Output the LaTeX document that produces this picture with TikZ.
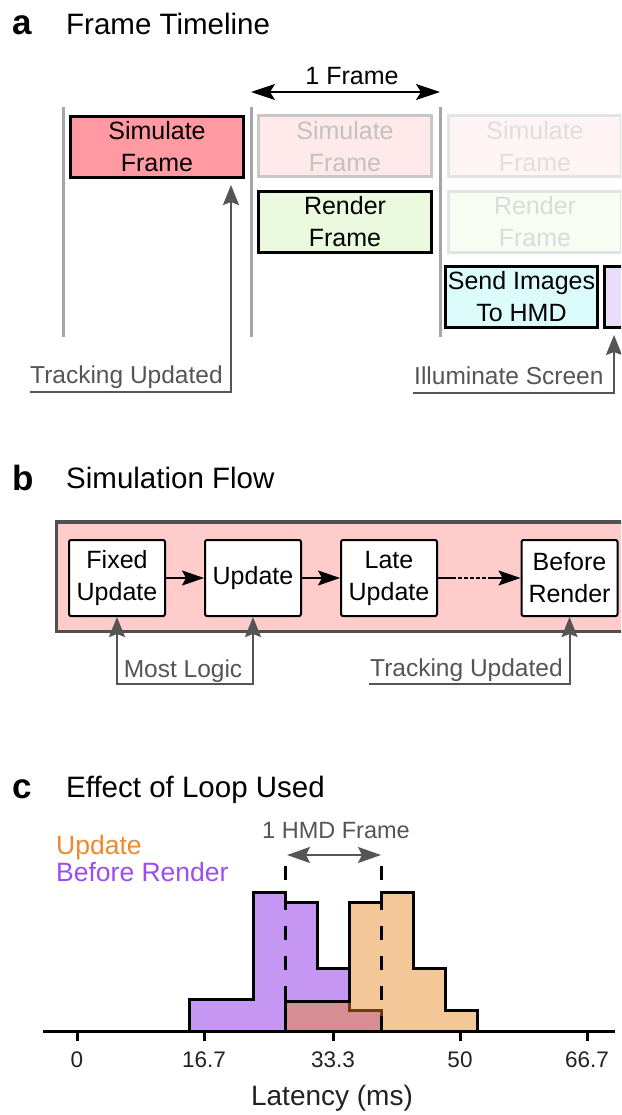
\documentclass[tikz,border=0pt]{standalone}
\usepackage{fontspec}
\setmainfont{Liberation Sans}
\usetikzlibrary{arrows.meta}

\definecolor{sepgray}{HTML}{A6A6A6}
\definecolor{annot}{HTML}{555555}
\definecolor{simfill}{HTML}{FF9AA2}
\definecolor{renfill}{HTML}{EBF9DF}
\definecolor{sendfill}{HTML}{DCFCFC}
\definecolor{illfill}{HTML}{EADCFB}
\definecolor{loopbg}{HTML}{FFCCCC}
\definecolor{loopedge}{HTML}{505050}
\definecolor{updcol}{HTML}{E98521}
\definecolor{updtext}{HTML}{EE8A2E}
\definecolor{befcol}{HTML}{C697F2}
\definecolor{beftext}{HTML}{9B4DF0}
\definecolor{ticktext}{HTML}{222222}

\newcommand\panelfont{\fontsize{35}{40}\selectfont\bfseries}
\newcommand\titlefont{\fontsize{29.5}{34}\selectfont}
\newcommand\boxfont{\fontsize{25}{32}\selectfont}
\newcommand\labfont{\fontsize{24.5}{28}\selectfont}

\begin{document}
\begin{tikzpicture}[x=1pt,y=-1pt,
  panel/.style={anchor=base west, inner sep=0pt, font=\panelfont},
  ptitle/.style={anchor=base west, inner sep=0pt, font=\titlefont},
  sepline/.style={draw=sepgray, line width=3pt},
  tbox/.style={draw=black, line width=3pt, align=center, font=\boxfont,
    inner sep=0pt, minimum width=173pt, minimum height=61pt},
  fbox/.style={draw=black, line width=2pt, rounded corners=2pt, fill=white,
    align=center, font=\boxfont, inner sep=0pt,
    minimum width=96pt, minimum height=76pt},
  lab/.style={inner sep=0pt, font=\labfont, text=annot},
  garrow/.style={draw=annot, line width=2pt,
    -{Stealth[length=20pt, width=16pt, inset=3pt]}},
  garrows/.style={draw=annot, line width=2pt,
    {Stealth[length=20pt, width=16pt, inset=3pt]}-{Stealth[length=20pt, width=16pt, inset=3pt]}},
  farrow/.style={draw=black, line width=2pt,
    {Stealth[length=24pt, width=16pt, inset=5pt]}-{Stealth[length=24pt, width=16pt, inset=5pt]}},
  flow/.style={draw=black, line width=1.5pt,
    -{Stealth[length=22pt, width=15pt, inset=4pt]}},
  hist/.style={draw=black, line width=3pt, line join=miter},
  vmark/.style={draw=black, line width=3pt, dash pattern=on 14pt off 16pt},
  axis/.style={draw=black, line width=3pt},
  ticklab/.style={inner sep=0pt, anchor=base, font=\fontsize{22.5}{26}\selectfont, text=ticktext}
]
\clip (0,0) rectangle (621,1115);
\fill[white] (0,0) rectangle (621,1115);

% ---------------- a: frame timeline ----------------
\node[panel] (pa) at (12,35) {a};
\node[ptitle] (ta) at (66,35) {Frame Timeline};

\coordinate (s1t) at (63,107);  \coordinate (s1b) at (63,337);
\coordinate (s2t) at (251,107); \coordinate (s2b) at (251,337);
\coordinate (s3t) at (440,107); \coordinate (s3b) at (440,337);
\draw[sepline] (s1t) -- (s1b);
\draw[sepline] (s2t) -- (s2b);
\draw[sepline] (s3t) -- (s3b);

\node[tbox, fill=simfill] (sim1) at (157,147) {Simulate\\Frame};
\node[tbox, fill=simfill!22, draw=black!22, text=black!24] (sim2) at (345,146.5) {Simulate\\Frame};
\node[tbox, fill=simfill!11, draw=black!11, text=black!13] (sim3) at (535,146.5) {Simulate\\Frame};
\node[tbox, fill=renfill] (ren1) at (345,222) {Render\\Frame};
\node[tbox, fill=renfill!40, draw=black!11, text=black!14] (ren2) at (535,222) {Render\\Frame};
\node[tbox, fill=sendfill, minimum width=152pt] (send) at (521.5,297) {Send Images\\To HMD};
\node[tbox, fill=illfill] (illum) at (691,297) {};

% one frame span
\coordinate (fa) at (251,92);
\coordinate (fb) at (440,92);
\draw[farrow] (fa) -- (fb);
\node[lab, text=black, anchor=base, font=\boxfont] (fl) at (352,85) {1 Frame};

% tracking / illumination markers
\node[lab, anchor=base west] (trkA) at (30,383) {Tracking Updated};
\coordinate (trkAs) at (30,392);
\coordinate (trkAe) at (231,185);
\draw[garrow] (trkAs) -| (trkAe);

\node[lab, anchor=base west] (illA) at (414,384) {Illuminate Screen};
\coordinate (illAs) at (413,393);
\coordinate (illAe) at (614,335);
\draw[garrow] (illAs) -| (illAe);

% ---------------- b: simulation flow ----------------
\node[panel] (pb) at (12,490) {b};
\node[ptitle] (tb) at (66,488) {Simulation Flow};

\draw[fill=loopbg, draw=loopedge, line width=3.5pt] (56.5,522) rectangle (700,631.5);

\node[fbox] (fix)  at (117,578)   {Fixed\\Update};
\node[fbox] (upd)  at (253,578)   {Update};
\node[fbox] (late) at (389,578)   {Late\\Update};
\node[fbox] (bef)  at (569.5,578) {Before\\Render};

\draw[flow] (fix) -- (upd);
\draw[flow] (upd) -- (late);
\draw[flow, dash pattern=on 18pt off 2pt on 4pt off 2pt on 4pt off 2pt on 4pt off 2pt on 4pt off 2pt on 4pt off 2pt on 80pt] (late) -- (bef);

\node[lab, anchor=base] (ml) at (183,677) {Most Logic};
\coordinate (mlL) at (117,684);
\coordinate (mlR) at (253,684);
\draw[garrows] (fix.south) -- (mlL) -- (mlR) -- (upd.south);

\node[lab, anchor=base west] (trkB) at (370,676) {Tracking Updated};
\coordinate (trkBs) at (369,684);
\draw[garrow] (trkBs) -| (bef.south);

% ---------------- c: effect of loop used ----------------
\node[panel] (pc) at (12,798) {c};
\node[ptitle] (tc) at (66,797) {Effect of Loop Used};

\node[lab, anchor=base west, font=\fontsize{26.5}{30}\selectfont, text=updtext] (legU) at (56,854) {Update};
\node[lab, anchor=base west, font=\fontsize{26.5}{30}\selectfont, text=beftext] (legB) at (56,881) {Before Render};

% latency histograms
\draw[hist, fill=befcol]
  (189,1031) -- (189,999) -- (253,999) -- (253,892) -- (285,892) -- (285,902)
  -- (317,902) -- (317,968) -- (349,968) -- (349,1010) -- (381,1010) -- (381,1031) -- cycle;
\fill[updcol, fill opacity=0.46]
  (285,1031) -- (285,1001) -- (349,1001) -- (349,902) -- (381,902) -- (381,892)
  -- (413,892) -- (413,968) -- (445,968) -- (445,1010) -- (477,1010) -- (477,1031) -- cycle;
\draw[hist]
  (285,1031) -- (285,1001) -- (349,1001) -- (349,902) -- (381,902) -- (381,892)
  -- (413,892) -- (413,968) -- (445,968) -- (445,1010) -- (477,1010) -- (477,1031);

% one HMD frame markers
\coordinate (d1t) at (285,866); \coordinate (d1b) at (285,1031);
\coordinate (d2t) at (381,866); \coordinate (d2b) at (381,1031);
\draw[vmark] (d1t) -- (d1b);
\draw[vmark] (d2t) -- (d2b);
\coordinate (h1) at (287,855);
\coordinate (h2) at (381,855);
\draw[draw=annot, line width=2pt,
  {Stealth[length=23pt, width=16pt, inset=4pt]}-{Stealth[length=23pt, width=16pt, inset=4pt]}] (h1) -- (h2);
\node[lab, anchor=base, font=\fontsize{23.5}{27}\selectfont] (hl) at (336,838) {1 HMD Frame};

% axis
\coordinate (ax0) at (43,1031);
\coordinate (ax1) at (615,1031);
\draw[axis] (ax0) -- (ax1);
\foreach \x/\t in {77/0, 204/16.7, 333/33.3, 460/50, 587/66.7} {
  \draw[axis] (\x,1031) -- (\x,1041);
  \node[ticklab] at (\x,1067) {\t};
}
\node[ticklab, font=\fontsize{28}{31}\selectfont] (xl) at (332,1105) {Latency (ms)};

\end{tikzpicture}
\end{document}
